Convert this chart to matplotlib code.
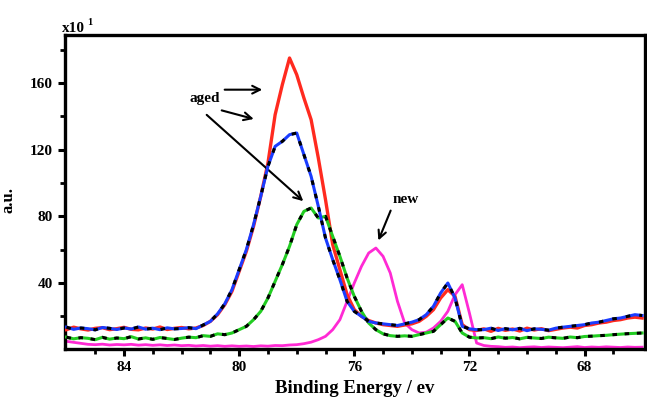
import numpy as np
import matplotlib
matplotlib.use("Agg")
import matplotlib.pyplot as plt

plt.rcParams['font.family'] = ['Liberation Serif', 'DejaVu Serif']
plt.rcParams['font.weight'] = 'bold'

# binding energy grid (eV), 86 -> 66 in 0.25 steps
energy = np.arange(86.0, 65.99, -0.25)

# aged sample, highest peak (red)
aged_red = [12.0, 13.5, 12.5, 11.8, 12.8, 13.2, 12.0, 12.6, 13.4, 12.2,
            11.9, 13.0, 12.4, 13.6, 12.1, 12.8, 13.3, 12.5, 13.0, 14.5,
            17.0, 21.0, 27.0, 35.0, 47.0, 59.0, 74.0, 92.0, 112.0, 141.0,
            159.0, 175.0, 165.0, 151.0, 138.0, 115.0, 90.0, 63.0, 48.0, 33.0,
            24.0, 20.0, 17.5, 16.0, 15.0, 14.5, 14.0, 14.8, 15.5, 17.0,
            20.0, 24.0, 31.0, 36.0, 32.0, 15.0, 12.0, 11.5, 12.5, 11.0,
            12.8, 11.6, 12.4, 11.2, 12.9, 11.8, 12.6, 11.4, 12.2, 13.0,
            13.5, 13.0, 14.5, 15.0, 16.0, 16.5, 17.5, 18.0, 19.0, 19.5,
            19.0]

# aged sample, middle peak (blue / black)
aged_blue = [13.5, 12.2, 13.0, 12.6, 11.9, 13.3, 12.8, 12.1, 13.0, 12.4,
             13.6, 12.3, 12.9, 12.0, 13.1, 12.5, 12.7, 13.2, 12.6, 14.8,
             17.0, 21.5, 27.5, 36.0, 48.0, 60.0, 75.0, 92.0, 110.0, 122.0,
             125.0, 129.0, 130.0, 117.0, 104.0, 86.0, 67.0, 54.0, 42.0, 29.0,
             23.0, 20.0, 17.0, 16.0, 15.5, 15.0, 14.5, 15.5, 16.5, 18.0,
             21.0, 26.0, 34.0, 40.0, 31.0, 14.0, 12.5, 12.0, 12.0, 12.9,
             11.5, 12.6, 11.9, 12.8, 11.4, 12.5, 12.2, 11.7, 12.9, 13.5,
             14.0, 14.5, 15.0, 16.0, 16.5, 17.5, 18.5, 19.0, 20.0, 21.0,
             20.5]

# aged sample, lowest peak (green / black)
aged_green = [7.5, 6.5, 7.2, 6.8, 6.0, 7.4, 6.3, 7.0, 6.6, 7.8,
              6.4, 7.1, 6.2, 7.3, 6.7, 6.1, 6.9, 7.5, 7.2, 8.4,
              8.0, 9.5, 9.0, 10.0, 12.0, 14.0, 18.0, 23.0, 31.0, 41.0,
              51.0, 62.0, 75.0, 83.0, 85.0, 79.0, 80.0, 68.0, 56.0, 43.0,
              32.0, 23.0, 16.0, 12.0, 9.5, 8.4, 8.0, 8.3, 8.0, 9.0,
              10.0, 11.0, 15.0, 19.0, 17.0, 10.0, 7.5, 7.0, 7.2, 6.6,
              7.6, 6.9, 7.3, 6.5, 7.4, 7.0, 6.7, 7.5, 7.1, 6.8,
              7.6, 7.2, 7.9, 8.1, 8.4, 8.6, 9.0, 9.3, 9.6, 9.8,
              10.0]

# new sample (magenta)
new_mag = [5.0, 4.4, 3.8, 3.2, 3.0, 3.3, 2.8, 3.1, 2.9, 3.2,
           2.7, 3.0, 2.6, 2.9, 2.5, 2.8, 2.4, 2.6, 2.2, 2.5,
           2.1, 2.4, 2.0, 2.3, 2.0, 2.2, 1.9, 2.3, 2.1, 2.5,
           2.4, 2.8, 3.0, 3.6, 4.5, 6.0, 8.0, 12.0, 18.0, 29.0,
           40.0, 50.0, 58.0, 61.0, 56.0, 46.0, 29.0, 16.0, 12.0, 10.0,
           10.5, 13.0, 17.0, 23.0, 33.0, 39.0, 22.0, 4.0, 2.5, 2.0,
           1.8, 1.4, 1.6, 1.2, 1.5, 1.7, 1.3, 1.6, 1.4, 1.2,
           1.5, 1.8, 1.3, 1.6, 1.4, 1.7, 1.5, 1.3, 1.6, 1.4,
           1.5]

x_ticks = [84, 80, 76, 72, 68]
y_ticks = [40, 80, 120, 160]

fig = plt.figure(figsize=(6.47, 3.97), dpi=100)
ax = fig.add_axes([0.1005, 0.1209, 0.8964, 0.7909])

# curves: colored line with black dash overlay like the original scan
ax.plot(energy, new_mag, color='#ff2ad4', lw=2.0, zorder=2)
ax.plot(energy, aged_red, color='#ff2a1f', lw=2.4, zorder=3)
ax.plot(energy, aged_green, color='#22cc22', lw=2.2, zorder=4)
ax.plot(energy, aged_green, color='black', lw=2.2, dashes=(1.5, 2.5), zorder=4)
ax.plot(energy, aged_blue, color='#1a3cff', lw=2.2, zorder=5)
ax.plot(energy, aged_blue, color='black', lw=2.2, dashes=(1.5, 3.0), zorder=5)

ax.set_xlim(86.05, 65.9)
ax.set_ylim(0.4, 188.8)
ax.set_xticks(x_ticks)
ax.set_yticks(y_ticks)
ax.set_xticks(np.arange(85, 66, -1), minor=True)
ax.set_yticks(np.arange(20, 181, 40), minor=True)
ax.tick_params(which='major', direction='out', length=5, width=2.2,
               labelsize=11, pad=3.5)
ax.tick_params(which='minor', direction='out', length=3.5, width=2.0)
for lab in ax.get_xticklabels() + ax.get_yticklabels():
    lab.set_fontweight('bold')
for sp in ax.spines.values():
    sp.set_linewidth(2.4)

ax.set_xlabel('Binding Energy / ev', fontsize=13.5, fontweight='bold')
ax.xaxis.set_label_coords(0.5, -0.098)
ax.set_ylabel('a.u.', fontsize=12, fontweight='bold')
ax.yaxis.set_label_coords(-0.083, 0.475)

ax.text(-0.006, 1.0, 'x10', transform=ax.transAxes, fontsize=11,
        fontweight='bold', ha='left', va='bottom')
ax.text(0.038, 1.025, '1', transform=ax.transAxes, fontsize=7.5,
        fontweight='bold', ha='left', va='bottom')

# annotations
arrow = dict(arrowstyle='->', lw=1.5, color='black', mutation_scale=14)
ax.text(81.2, 151, 'aged', fontsize=11, fontweight='bold', ha='center', va='center')
ax.annotate('', xy=(79.1, 156), xytext=(80.6, 156), arrowprops=arrow)
ax.annotate('', xy=(79.4, 138), xytext=(80.7, 144), arrowprops=arrow)
ax.annotate('', xy=(77.7, 88), xytext=(81.2, 142), arrowprops=arrow)
ax.text(74.2, 90, 'new', fontsize=11, fontweight='bold', ha='center', va='center')
ax.annotate('', xy=(75.2, 64), xytext=(74.7, 85), arrowprops=arrow)

fig.savefig('out.png', dpi=100)
